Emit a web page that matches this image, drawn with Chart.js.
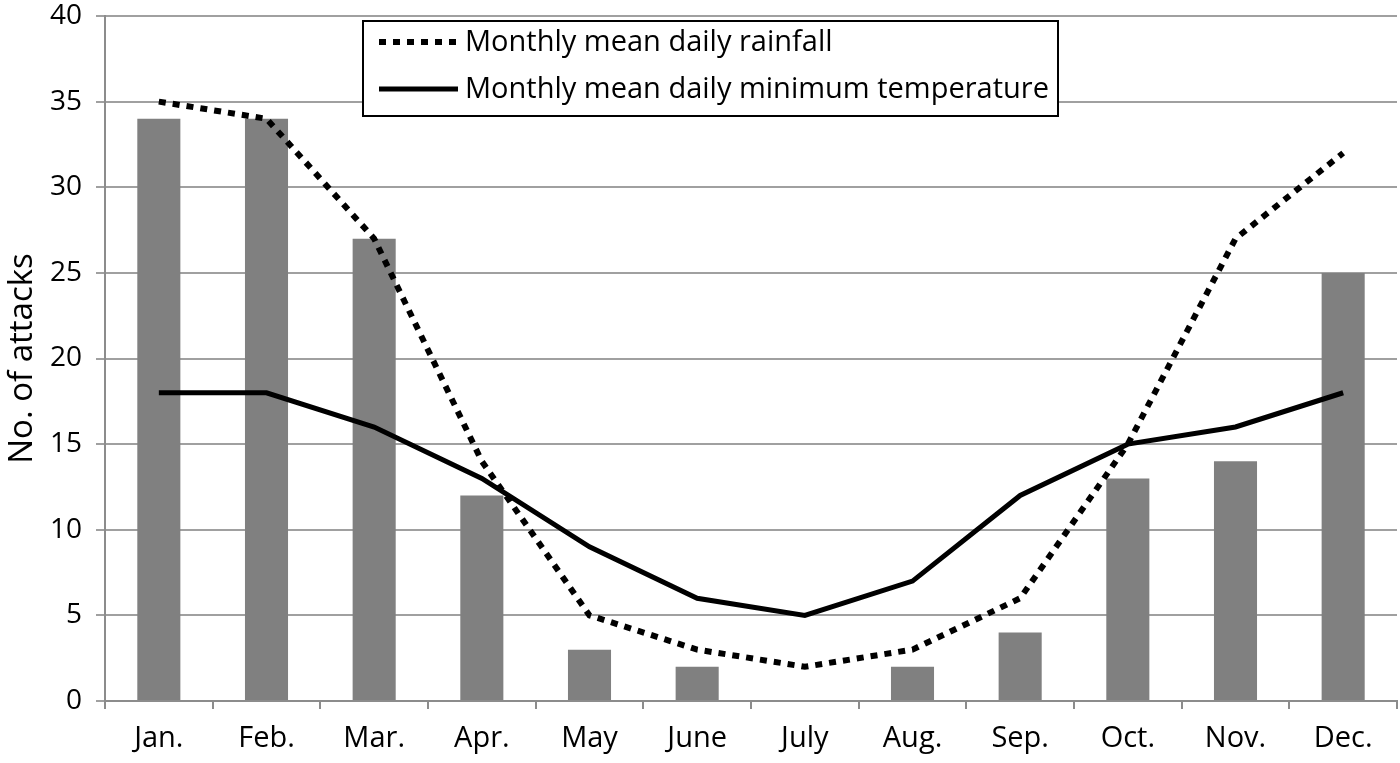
<!DOCTYPE html>
<html>
<head>
<meta charset="utf-8">
<script src="https://cdn.jsdelivr.net/npm/chart.js@4/dist/chart.umd.min.js"></script>
<style>
  html, body { margin: 0; padding: 0; background: #fff; }
  #wrap { width: 1400px; height: 763px; }
</style>
</head>
<body>
<div id="wrap"><canvas id="chart"></canvas></div>
<script>
const months = ['Jan.', 'Feb.', 'Mar.', 'Apr.', 'May', 'June', 'July', 'Aug.', 'Sep.', 'Oct.', 'Nov.', 'Dec.'];
const attacks = [34, 34, 27, 12, 3, 2, 0, 2, 4, 13, 14, 25];
const rainfall = [35, 34, 27, 14, 5, 3, 2, 3, 6, 15, 27, 32];
const minTemp = [18, 18, 16, 13, 9, 6, 5, 7, 12, 15, 16, 18];
const yTicks = [0, 5, 10, 15, 20, 25, 30, 35, 40];

const FONT = '"Open Sans", "Noto Sans", sans-serif';

// legend drawn inside the plot, like the original figure
const boxLegend = {
  id: 'boxLegend',
  afterDraw(chart) {
    const ctx = chart.ctx;
    const x = 363, y = 21, w = 695, h = 95;
    ctx.save();
    ctx.fillStyle = '#fff';
    ctx.fillRect(x, y, w, h);
    ctx.strokeStyle = '#000';
    ctx.lineWidth = 2;
    ctx.strokeRect(x, y, w, h);
    const lines = chart.data.datasets.filter(d => d.type === 'line');
    lines.forEach((ds, i) => {
      const ly = y + 21 + i * 47;
      ctx.beginPath();
      ctx.setLineDash(ds.borderDash || []);
      ctx.lineWidth = ds.borderWidth;
      ctx.strokeStyle = ds.borderColor;
      ctx.moveTo(x + 16, ly);
      ctx.lineTo(x + 95, ly);
      ctx.stroke();
      ctx.setLineDash([]);
      ctx.fillStyle = '#000';
      ctx.font = '29px ' + FONT;
      ctx.textBaseline = 'middle';
      ctx.fillText(ds.label, x + 102, ly + 1);
    });
    ctx.restore();
  }
};

new Chart(document.getElementById('chart'), {
  data: {
    labels: months,
    datasets: [
      {
        type: 'line',
        label: 'Monthly mean daily rainfall',
        data: rainfall,
        borderColor: '#000',
        borderWidth: 6,
        borderDash: [7, 7],
        pointRadius: 0,
        tension: 0,
        fill: false,
        order: 1
      },
      {
        type: 'line',
        label: 'Monthly mean daily minimum temperature',
        data: minTemp,
        borderColor: '#000',
        borderWidth: 5,
        pointRadius: 0,
        tension: 0,
        fill: false,
        order: 1
      },
      {
        type: 'bar',
        label: 'No. of attacks',
        data: attacks,
        backgroundColor: '#808080',
        borderWidth: 0,
        categoryPercentage: 0.4,
        barPercentage: 1,
        order: 2
      }
    ]
  },
  options: {
    responsive: true,
    maintainAspectRatio: false,
    animation: false,
    layout: { padding: { left: 0, right: 3, top: 16, bottom: 0 } },
    plugins: {
      legend: { display: false },
      tooltip: { enabled: false }
    },
    scales: {
      x: {
        offset: true,
        grid: {
          offset: true,
          drawOnChartArea: false,
          drawTicks: true,
          tickLength: 8,
          color: '#8c8c8c',
          lineWidth: 2
        },
        border: { color: '#8c8c8c', width: 2 },
        ticks: {
          color: '#000',
          font: { family: FONT, size: 29 },
          padding: 12,
          maxRotation: 0
        },
        afterFit(scale) { scale.height = 62; }
      },
      y: {
        min: 0,
        max: 40,
        afterBuildTicks(scale) { scale.ticks = yTicks.map(v => ({ value: v })); },
        grid: {
          color: '#a0a0a0',
          lineWidth: 2,
          drawTicks: true,
          tickLength: 9
        },
        border: { color: '#8c8c8c', width: 2 },
        ticks: {
          color: '#000',
          font: { family: FONT, size: 28 },
          padding: 14
        },
        title: {
          display: true,
          text: 'No. of attacks',
          color: '#000',
          font: { family: FONT, size: 33 },
          padding: { top: 3, bottom: 0 }
        },
        afterFit(scale) {
          scale.width = 105;
          scale.paddingTop = 0;
          scale.paddingBottom = 0;
        }
      }
    }
  },
  plugins: [boxLegend]
});
</script>
</body>
</html>
